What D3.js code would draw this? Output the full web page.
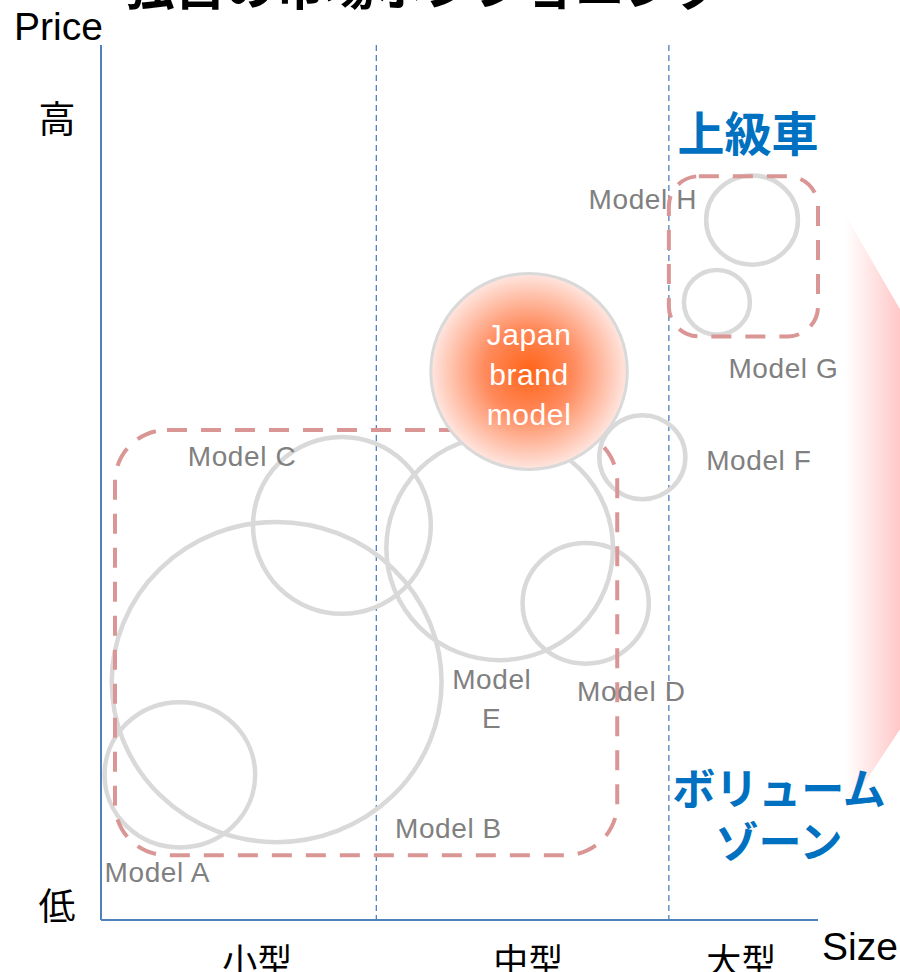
<!DOCTYPE html>
<html><head><meta charset="utf-8">
<script src="https://cdn.jsdelivr.net/npm/d3@7"></script>
<style>body{margin:0;background:#fff}svg{display:block}</style>
</head><body>
<script>
// ---- data (size axis 0..10, price axis 0..10) ----
const title = "独自の市場ポジショニング";
const sizeCategories = ["小型", "中型", "大型"];
const sizeCategoryCenters = [2.18, 5.96, 8.93];
const segmentBounds = [3.84, 7.92];
const priceTicks = ["低", "高"];
const modelNames = ["Model A","Model B","Model C","Model E","Model D","Model F","Model H","Model G"];
const modelSize  = [1.10, 2.45, 3.36, 5.56, 6.76, 7.55, 9.08, 8.59];
const modelPrice = [1.66, 2.72, 4.51, 4.25, 3.62, 5.29, 8.00, 7.06];
const modelSpreadX = [1.05, 2.30, 1.24, 1.58, 0.88, 0.60, 0.64, 0.46];
const modelSpreadY = [0.83, 1.83, 1.01, 1.28, 0.69, 0.48, 0.51, 0.37];
const labelSize  = [0.05, 4.10, 1.21, 5.45, 6.64, 8.44, 6.80, 8.75];
const labelPrice = [0.43, 0.94, 5.19, 2.64, 2.50, 5.14, 8.13, 6.19];
const japanModel = {name:["Japan","brand","model"], size:5.97, price:6.27, spreadX:1.37, spreadY:1.12};
const zones = [
  {name:"ボリュームゾーン", x0:0.195, x1:7.20, y0:0.74, y1:5.60},
  {name:"上級車", x0:7.92, x1:10.0, y0:6.67, y1:8.50}
];

const W = 900, H = 972;
const x = d3.scaleLinear().domain([0,10]).range([101,818]);
const y = d3.scaleLinear().domain([0,10]).range([920,45]);
const kx = x(1)-x(0), ky = y(0)-y(1);

const svg = d3.select("body").append("svg").attr("width",W).attr("height",H);
const defs = svg.append("defs");
const lg = defs.append("linearGradient").attr("id","arrowGrad").attr("x1","0").attr("x2","1").attr("y1","0").attr("y2","0");
lg.append("stop").attr("offset","0").attr("stop-color","#ffffff");
lg.append("stop").attr("offset","1").attr("stop-color","#ffc4c4");
const rg = defs.append("radialGradient").attr("id","japanGrad");
rg.append("stop").attr("offset","0").attr("stop-color","#ff6418");
rg.append("stop").attr("offset","0.45").attr("stop-color","#ff8a5c");
rg.append("stop").attr("offset","1").attr("stop-color","#ffe6e0");

// decorative arrow on the right
const arrowPts = [[10.38,8.06],[11.2,6.90],[11.2,2.25],[10.38,1.23]];
svg.append("path").attr("d","M"+arrowPts.map(p=>[x(p[0]),y(p[1])].join(",")).join("L")+"Z")
  .attr("fill","url(#arrowGrad)");

// title (cut off at top)
svg.append("text").attr("x",425).attr("y",5).attr("text-anchor","middle")
  .attr("font-family","Noto Sans CJK JP").attr("font-weight","bold").attr("font-size",50)
  .attr("fill","#000").text(title);

// segment dashed lines
svg.selectAll("line.seg").data(segmentBounds).join("line")
  .attr("x1",d=>x(d)).attr("x2",d=>x(d)).attr("y1",y(10)).attr("y2",y(0))
  .attr("stroke","#4f81bd").attr("stroke-width",1.3).attr("stroke-dasharray","6,4");

// axes
svg.append("line").attr("x1",x(0)).attr("x2",x(0)).attr("y1",y(10)).attr("y2",y(0))
  .attr("stroke","#4f81bd").attr("stroke-width",2);
svg.append("line").attr("x1",x(0)).attr("x2",x(10)).attr("y1",y(0)).attr("y2",y(0))
  .attr("stroke","#4f81bd").attr("stroke-width",2);

// model ellipses
const models = modelNames.map((n,i)=>({n, cx:modelSize[i], cy:modelPrice[i], rx:modelSpreadX[i], ry:modelSpreadY[i], lx:labelSize[i], ly:labelPrice[i]}));
svg.selectAll("ellipse.m").data(models).join("ellipse")
  .attr("cx",d=>x(d.cx)).attr("cy",d=>y(d.cy)).attr("rx",d=>d.rx*kx).attr("ry",d=>d.ry*ky)
  .attr("fill","none").attr("stroke","#d9d9d9").attr("stroke-width",4.5);

// zones
svg.selectAll("rect.z").data(zones).join("rect")
  .attr("x",d=>x(d.x0)).attr("y",d=>y(d.y1)).attr("width",d=>x(d.x1)-x(d.x0)).attr("height",d=>y(d.y0)-y(d.y1))
  .attr("rx",(d,i)=>i===0?52:30).attr("fill","none").attr("stroke","#d99694").attr("stroke-width",4)
  .attr("stroke-dasharray","20,14");

// Japan model
svg.append("ellipse").attr("cx",x(japanModel.size)).attr("cy",y(japanModel.price))
  .attr("rx",japanModel.spreadX*kx).attr("ry",japanModel.spreadY*ky)
  .attr("fill","url(#japanGrad)").attr("stroke","#d9d9d9").attr("stroke-width",3);
svg.selectAll("text.jp").data(japanModel.name).join("text")
  .attr("x",x(japanModel.size)).attr("y",(d,i)=>y(japanModel.price)-26+i*40)
  .attr("text-anchor","middle").attr("font-family","Liberation Sans, Arial").attr("font-size",30)
  .attr("letter-spacing",0.6).attr("fill","#fff").text(d=>d);

// model labels
svg.selectAll("text.ml").data(models).join("text")
  .attr("font-family","Liberation Sans, Arial").attr("font-size",28).attr("letter-spacing",0.6).attr("fill","#808080")
  .attr("x",d=>x(d.lx)).attr("y",d=>y(d.ly))
  .each(function(d){
    const t=d3.select(this);
    if(d.n==="Model E"){
      t.attr("text-anchor","middle");
      t.append("tspan").attr("x",x(d.lx)).text("Model");
      t.append("tspan").attr("x",x(d.lx)).attr("dy",39).text("E");
    } else t.text(d.n);
  });

// axis titles
svg.append("text").attr("x",14).attr("y",40).attr("font-family","Liberation Sans Narrow, Liberation Sans").attr("font-size",39)
  .attr("fill","#000").text("Price");
svg.append("text").attr("x",822).attr("y",960).attr("font-family","Liberation Sans Narrow, Liberation Sans").attr("font-size",39)
  .attr("fill","#000").text("Size");

// price tick labels
svg.selectAll("text.pt").data(priceTicks).join("text")
  .attr("x",57).attr("y",(d,i)=>i===0?y(0.0):y(9.0)).attr("text-anchor","middle")
  .attr("font-family","Noto Sans CJK JP").attr("font-size",37).attr("fill","#000").text(d=>d);

// size category labels
svg.selectAll("text.sc").data(sizeCategories).join("text")
  .attr("x",(d,i)=>x(sizeCategoryCenters[i])).attr("y",974).attr("text-anchor","middle")
  .attr("font-family","Noto Sans CJK JP").attr("font-size",35).attr("fill","#000").text(d=>d);

// zone titles
svg.append("text").attr("x",748).attr("y",151).attr("text-anchor","middle")
  .attr("font-family","Noto Sans CJK JP").attr("font-weight","bold").attr("font-size",47)
  .attr("fill","#0070c0").text("上級車");
const vz = svg.append("text").attr("text-anchor","middle").attr("font-family","Noto Sans CJK JP")
  .attr("font-weight","bold").attr("font-size",43).attr("fill","#0070c0");
vz.append("tspan").attr("x",779).attr("y",805).text("ボリューム");
vz.append("tspan").attr("x",779).attr("y",858).text("ゾーン");
</script>
</body></html>
